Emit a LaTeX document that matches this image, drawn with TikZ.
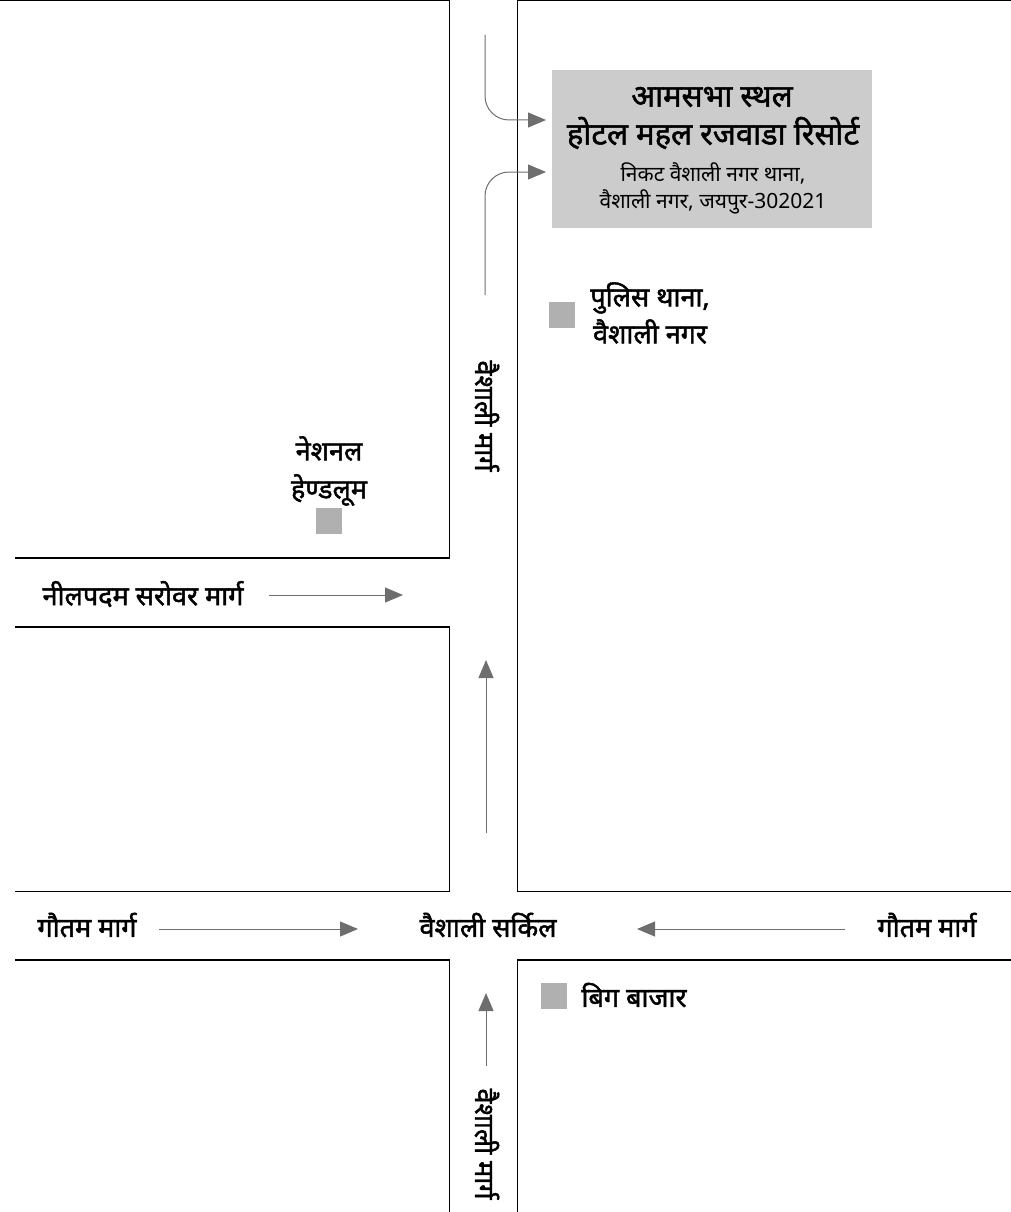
\documentclass[tikz,border=0pt]{standalone}
\usepackage{fontspec}
\setmainfont[Script=Devanagari]{Noto Sans}
\newfontfamily\heavyfont[Script=Devanagari,FakeBold=1.6]{Noto Sans}
\usetikzlibrary{arrows.meta}
\definecolor{venueGray}{HTML}{CCCCCC}
\definecolor{markGray}{HTML}{B0B0B0}
\definecolor{arrowGray}{HTML}{6E6E6E}
\tikzset{
  >={Triangle[width=15pt,length=18pt]},
  % Specifications for style of nodes:
        place/.style = {font=\fontsize{27}{36}\selectfont\heavyfont, inner sep=0pt, align=center},
    roadLabel/.style = {place, rotate=-90},
    venueHead/.style = {font=\fontsize{31}{36}\selectfont\heavyfont, inner sep=0pt},
    venueText/.style = {font=\fontsize{21}{28}\selectfont, inner sep=0pt},
    venueBox/.style  = {rectangle, fill=venueGray, minimum width=320pt, minimum height=158pt, inner sep=0pt},
    landmark/.style  = {rectangle, fill=markGray, minimum size=26pt, inner sep=0pt},
        block/.style = {draw=black, line width=1.2pt},
        route/.style = {->, draw=arrowGray, line width=1pt, rounded corners=24pt},
}
\begin{document}
\begin{tikzpicture}[x=1pt, y=-1pt]
    \useasboundingbox (0,0) rectangle (1011,1212);
    % City blocks
    \draw[block] (0,0.5) -- (449.5,0.5) -- (449.5,558) -- (15,558);
    \draw[block] (1011,0.5) -- (517.5,0.5) -- (517.5,891.5) -- (1011,891.5);
    \draw[block] (15,627) -- (449.5,627) -- (449.5,891.5) -- (15,891.5);
    \draw[block] (15,960) -- (449.5,960) -- (449.5,1212);
    \draw[block] (517.5,1212) -- (517.5,960) -- (1011,960);

    % Specification of nodes
    \node (venue)      [venueBox]  at (712,149)  {};
    \node (venueName)  [venueHead] at (712,97)   {आमसभा स्थल};
    \node (hotelName)  [venueHead] at (713,133)  {होटल महल रजवाडा रिसोर्ट};
    \node (nearBy)     [venueText] at (713,173)  {निकट वैशाली नगर थाना,};
    \node (address)    [venueText] at (713,202)  {वैशाली नगर, जयपुर-302021};
    \node (police)     [landmark]  at (562,315)  {};
    \node (policeName) [place]     at (650,313)  {पुलिस थाना,\\[1pt]वैशाली नगर};
    \node (handloom)   [landmark]  at (329,521)  {};
    \node (loomName)   [place]     at (329,471)  {नेशनल\\[2pt]हेण्डलूम};
    \node (bazaar)     [landmark]  at (554,996)  {};
    \node (bazaarName) [place]     at (634,995)  {बिग बाजार};
    \node (nilpadam)   [place]     at (143,594)  {नीलपदम सरोवर मार्ग};
    \node (gautamW)    [place]     at (87,925)   {गौतम मार्ग};
    \node (gautamE)    [place]     at (927,925)  {गौतम मार्ग};
    \node (circle)     [place]     at (488,925)  {वैशाली सर्किल};
    \node (vaishaliN)  [roadLabel] at (487,416)  {वैशाली मार्ग};
    \node (vaishaliS)  [roadLabel] at (487,1144) {वैशाली मार्ग};

    % Free ends of the arrows
    \coordinate (inTop)    at (485,35);
    \coordinate (tipTop)   at (546,120);
    \coordinate (inLow)    at (485,295);
    \coordinate (tipLow)   at (546,172);
    \coordinate (inNil)    at (269,595);
    \coordinate (tipNil)   at (403,595);
    \coordinate (inMid)    at (486,833);
    \coordinate (tipMid)   at (486,660);
    \coordinate (inWest)   at (159,929);
    \coordinate (tipWest)  at (358,929);
    \coordinate (inEast)   at (845,929);
    \coordinate (tipEast)  at (637,929);
    \coordinate (inSouth)  at (486,1066);
    \coordinate (tipSouth) at (486,993);

    % Lines between them
    \draw[route] (inTop)   |- (tipTop);
    \draw[route] (inLow)   |- (tipLow);
    \draw[route] (inNil)   -- (tipNil);
    \draw[route] (inMid)   -- (tipMid);
    \draw[route] (inWest)  -- (tipWest);
    \draw[route] (inEast)  -- (tipEast);
    \draw[route] (inSouth) -- (tipSouth);
\end{tikzpicture}
\end{document}
